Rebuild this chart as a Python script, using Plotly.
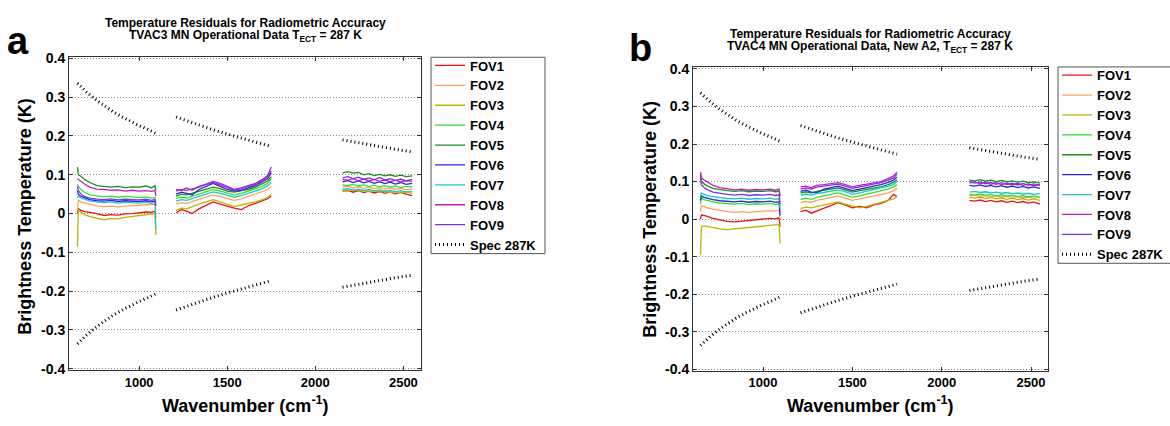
import plotly.graph_objects as go

# ---------------- data ----------------
WN_B1 = [650, 655, 670, 690, 720, 760, 800, 840, 880, 920, 960, 1000, 1040, 1070, 1090, 1095]
WN_B2 = [1210, 1240, 1270, 1300, 1340, 1380, 1420, 1460, 1500, 1540, 1580, 1620, 1660, 1700, 1730, 1750]
WN_B3 = [2155, 2185, 2215, 2245, 2275, 2305, 2335, 2365, 2395, 2425, 2455, 2485, 2515, 2550]

FOV_NAMES = ["FOV1", "FOV2", "FOV3", "FOV4", "FOV5", "FOV6", "FOV7", "FOV8", "FOV9"]
FOV_COLORS = ["#e8141a", "#ffa060", "#b8b800", "#33e033", "#1e8c1e", "#2828d8", "#20c8c0", "#c020c0", "#8030e0"]

# panel a (TVAC3)
A_B1 = {
    "FOV1": [0.000, 0.012, 0.008, 0.005, 0.003, 0.000, -0.005, -0.003, -0.004, -0.001, 0.000, 0.002, 0.004, 0.003, 0.006, -0.010],
    "FOV2": [0.010, 0.035, 0.030, 0.027, 0.024, 0.020, 0.017, 0.019, 0.017, 0.019, 0.020, 0.021, 0.023, 0.022, 0.024, 0.010],
    "FOV3": [-0.085, 0.010, 0.003, -0.003, -0.008, -0.012, -0.016, -0.013, -0.014, -0.010, -0.008, -0.006, -0.003, -0.002, 0.000, -0.055],
    "FOV4": [0.075, 0.070, 0.062, 0.055, 0.048, 0.045, 0.043, 0.045, 0.042, 0.044, 0.043, 0.041, 0.043, 0.040, 0.042, 0.030],
    "FOV5": [0.120, 0.100, 0.096, 0.088, 0.080, 0.072, 0.070, 0.068, 0.070, 0.067, 0.069, 0.068, 0.071, 0.066, 0.072, 0.060],
    "FOV6": [0.060, 0.050, 0.044, 0.040, 0.036, 0.033, 0.032, 0.034, 0.031, 0.033, 0.032, 0.031, 0.033, 0.030, 0.032, 0.020],
    "FOV7": [0.040, 0.045, 0.040, 0.036, 0.032, 0.030, 0.028, 0.030, 0.027, 0.029, 0.028, 0.027, 0.029, 0.026, 0.028, -0.040],
    "FOV8": [0.090, 0.088, 0.082, 0.076, 0.068, 0.063, 0.062, 0.060, 0.061, 0.058, 0.060, 0.058, 0.059, 0.057, 0.060, 0.045],
    "FOV9": [0.070, 0.060, 0.050, 0.044, 0.040, 0.037, 0.036, 0.038, 0.035, 0.037, 0.036, 0.035, 0.037, 0.034, 0.036, 0.020],
}
A_B2 = {
    "FOV1": [0.002, 0.010, 0.006, 0.000, 0.012, 0.020, 0.030, 0.024, 0.018, 0.014, 0.010, 0.020, 0.026, 0.032, 0.038, 0.045],
    "FOV2": [0.025, 0.028, 0.026, 0.030, 0.036, 0.042, 0.048, 0.044, 0.038, 0.034, 0.038, 0.044, 0.050, 0.056, 0.062, 0.070],
    "FOV3": [0.008, 0.014, 0.012, 0.018, 0.024, 0.030, 0.036, 0.030, 0.024, 0.018, 0.022, 0.026, 0.030, 0.036, 0.042, 0.050],
    "FOV4": [0.040, 0.042, 0.040, 0.044, 0.050, 0.056, 0.062, 0.058, 0.052, 0.048, 0.052, 0.058, 0.062, 0.070, 0.078, 0.090],
    "FOV5": [0.045, 0.050, 0.048, 0.052, 0.058, 0.062, 0.068, 0.064, 0.058, 0.055, 0.058, 0.062, 0.068, 0.076, 0.084, 0.095],
    "FOV6": [0.050, 0.055, 0.052, 0.048, 0.062, 0.070, 0.078, 0.070, 0.062, 0.058, 0.060, 0.066, 0.072, 0.082, 0.090, 0.105],
    "FOV7": [0.032, 0.036, 0.034, 0.038, 0.044, 0.050, 0.056, 0.052, 0.046, 0.042, 0.046, 0.052, 0.058, 0.064, 0.072, 0.080],
    "FOV8": [0.058, 0.062, 0.060, 0.064, 0.068, 0.076, 0.080, 0.074, 0.066, 0.060, 0.064, 0.070, 0.075, 0.085, 0.095, 0.110],
    "FOV9": [0.062, 0.060, 0.066, 0.060, 0.070, 0.075, 0.083, 0.078, 0.070, 0.062, 0.066, 0.072, 0.078, 0.088, 0.098, 0.120],
}
A_B3 = {
    "FOV1": [0.058, 0.060, 0.055, 0.059, 0.054, 0.058, 0.053, 0.057, 0.052, 0.056, 0.051, 0.055, 0.050, 0.046],
    "FOV2": [0.068, 0.070, 0.066, 0.069, 0.065, 0.068, 0.064, 0.067, 0.063, 0.066, 0.062, 0.065, 0.061, 0.063],
    "FOV3": [0.060, 0.058, 0.062, 0.057, 0.060, 0.056, 0.059, 0.055, 0.058, 0.054, 0.057, 0.053, 0.056, 0.052],
    "FOV4": [0.074, 0.072, 0.075, 0.071, 0.074, 0.070, 0.073, 0.069, 0.072, 0.068, 0.071, 0.067, 0.070, 0.068],
    "FOV5": [0.105, 0.108, 0.104, 0.106, 0.100, 0.103, 0.098, 0.101, 0.097, 0.100, 0.096, 0.099, 0.095, 0.097],
    "FOV6": [0.082, 0.085, 0.080, 0.084, 0.079, 0.083, 0.078, 0.082, 0.077, 0.081, 0.076, 0.080, 0.075, 0.078],
    "FOV7": [0.062, 0.064, 0.060, 0.063, 0.059, 0.062, 0.058, 0.061, 0.057, 0.060, 0.056, 0.059, 0.055, 0.057],
    "FOV8": [0.088, 0.086, 0.090, 0.085, 0.089, 0.084, 0.088, 0.083, 0.087, 0.082, 0.086, 0.081, 0.085, 0.083],
    "FOV9": [0.092, 0.095, 0.090, 0.094, 0.088, 0.092, 0.087, 0.093, 0.086, 0.090, 0.085, 0.089, 0.084, 0.088],
}

# panel b (TVAC4, new A2)
B_B1 = {
    "FOV1": [0.000, 0.011, 0.010, 0.006, 0.002, -0.002, -0.006, -0.007, -0.005, -0.004, -0.002, 0.000, 0.002, 0.001, 0.004, -0.020],
    "FOV2": [0.020, 0.036, 0.034, 0.030, 0.027, 0.023, 0.020, 0.018, 0.020, 0.018, 0.020, 0.021, 0.023, 0.022, 0.024, 0.000],
    "FOV3": [-0.095, -0.020, -0.018, -0.020, -0.023, -0.026, -0.028, -0.026, -0.024, -0.022, -0.020, -0.018, -0.016, -0.015, -0.014, -0.065],
    "FOV4": [0.040, 0.056, 0.052, 0.049, 0.046, 0.043, 0.041, 0.040, 0.042, 0.039, 0.041, 0.040, 0.042, 0.039, 0.041, 0.020],
    "FOV5": [0.120, 0.100, 0.094, 0.088, 0.082, 0.078, 0.076, 0.074, 0.076, 0.073, 0.075, 0.074, 0.076, 0.073, 0.075, 0.060],
    "FOV6": [0.050, 0.062, 0.058, 0.055, 0.052, 0.049, 0.047, 0.046, 0.048, 0.045, 0.047, 0.046, 0.048, 0.045, 0.047, 0.010],
    "FOV7": [0.060, 0.070, 0.066, 0.062, 0.060, 0.057, 0.055, 0.054, 0.056, 0.053, 0.055, 0.054, 0.056, 0.053, 0.055, 0.030],
    "FOV8": [0.125, 0.110, 0.104, 0.098, 0.090, 0.084, 0.080, 0.078, 0.080, 0.077, 0.079, 0.078, 0.080, 0.077, 0.080, 0.065],
    "FOV9": [0.110, 0.092, 0.084, 0.078, 0.072, 0.068, 0.066, 0.064, 0.066, 0.063, 0.065, 0.064, 0.066, 0.063, 0.065, 0.040],
}
B_B2 = {
    "FOV1": [0.020, 0.024, 0.016, 0.022, 0.030, 0.036, 0.044, 0.038, 0.030, 0.034, 0.030, 0.038, 0.042, 0.050, 0.066, 0.060],
    "FOV2": [0.044, 0.047, 0.045, 0.050, 0.054, 0.058, 0.062, 0.056, 0.050, 0.054, 0.058, 0.062, 0.066, 0.070, 0.076, 0.082],
    "FOV3": [0.028, 0.032, 0.030, 0.034, 0.038, 0.042, 0.046, 0.040, 0.034, 0.030, 0.034, 0.040, 0.044, 0.050, 0.054, 0.060],
    "FOV4": [0.052, 0.056, 0.053, 0.058, 0.062, 0.066, 0.070, 0.064, 0.058, 0.062, 0.066, 0.070, 0.074, 0.080, 0.086, 0.092],
    "FOV5": [0.070, 0.073, 0.070, 0.074, 0.077, 0.080, 0.083, 0.078, 0.072, 0.076, 0.079, 0.083, 0.086, 0.092, 0.098, 0.105],
    "FOV6": [0.074, 0.078, 0.072, 0.070, 0.080, 0.084, 0.088, 0.082, 0.076, 0.080, 0.084, 0.088, 0.092, 0.098, 0.104, 0.112],
    "FOV7": [0.064, 0.067, 0.064, 0.068, 0.071, 0.075, 0.078, 0.073, 0.066, 0.070, 0.074, 0.078, 0.082, 0.088, 0.092, 0.100],
    "FOV8": [0.085, 0.088, 0.084, 0.090, 0.092, 0.094, 0.097, 0.092, 0.086, 0.090, 0.094, 0.098, 0.100, 0.108, 0.115, 0.125],
    "FOV9": [0.080, 0.083, 0.080, 0.085, 0.088, 0.090, 0.093, 0.088, 0.082, 0.086, 0.090, 0.094, 0.097, 0.104, 0.110, 0.120],
}
B_B3 = {
    "FOV1": [0.050, 0.048, 0.051, 0.047, 0.050, 0.046, 0.049, 0.045, 0.048, 0.044, 0.047, 0.043, 0.046, 0.040],
    "FOV2": [0.062, 0.064, 0.061, 0.063, 0.060, 0.062, 0.059, 0.061, 0.058, 0.060, 0.057, 0.059, 0.056, 0.058],
    "FOV3": [0.058, 0.056, 0.059, 0.055, 0.058, 0.054, 0.057, 0.053, 0.056, 0.052, 0.055, 0.051, 0.054, 0.050],
    "FOV4": [0.066, 0.064, 0.067, 0.063, 0.066, 0.062, 0.065, 0.061, 0.064, 0.060, 0.063, 0.059, 0.062, 0.058],
    "FOV5": [0.104, 0.102, 0.105, 0.101, 0.104, 0.100, 0.103, 0.099, 0.102, 0.098, 0.101, 0.097, 0.099, 0.096],
    "FOV6": [0.090, 0.088, 0.091, 0.087, 0.090, 0.086, 0.089, 0.085, 0.088, 0.084, 0.087, 0.083, 0.086, 0.082],
    "FOV7": [0.072, 0.074, 0.071, 0.073, 0.070, 0.072, 0.069, 0.071, 0.068, 0.070, 0.067, 0.069, 0.066, 0.068],
    "FOV8": [0.096, 0.099, 0.094, 0.098, 0.093, 0.097, 0.092, 0.096, 0.091, 0.095, 0.090, 0.094, 0.089, 0.092],
    "FOV9": [0.100, 0.096, 0.099, 0.094, 0.098, 0.093, 0.097, 0.092, 0.096, 0.091, 0.095, 0.090, 0.094, 0.090],
}

# specification envelope (+/-), 287 K
SPEC_X1 = [650, 700, 750, 800, 850, 900, 950, 1000, 1050, 1095]
SPEC_V1 = [0.336, 0.314, 0.295, 0.279, 0.263, 0.250, 0.238, 0.227, 0.217, 0.207]
SPEC_X2 = [1210, 1300, 1400, 1500, 1600, 1700, 1750]
SPEC_V2 = [0.249, 0.234, 0.219, 0.205, 0.192, 0.179, 0.173]
SPEC_X3 = [2155, 2250, 2350, 2450, 2550]
SPEC_V3 = [0.190, 0.182, 0.174, 0.166, 0.159]

Y_TICKS = [-0.4, -0.3, -0.2, -0.1, 0, 0.1, 0.2, 0.3, 0.4]
Y_TICK_LABELS = ["-0.4", "-0.3", "-0.2", "-0.1", "0", "0.1", "0.2", "0.3", "0.4"]
X_TICKS = [1000, 1500, 2000, 2500]

TITLE1 = "Temperature Residuals for Radiometric Accuracy"
TITLE2_A = "TVAC3 MN Operational Data T<sub>ECT</sub> = 287 K"
TITLE2_B = "TVAC4 MN Operational Data, New A2, T<sub>ECT</sub> = 287 K"

# ---------------- figure ----------------
W, H = 1170, 426
FONT = "Liberation Sans, Arial, sans-serif"


def px(x):
    return x / W


def py(y):
    return 1 - y / H


fig = go.Figure()

panels = [
    dict(b1=A_B1, b2=A_B2, b3=A_B3, xa="x", ya="y", legend="legend"),
    dict(b1=B_B1, b2=B_B2, b3=B_B3, xa="x2", ya="y2", legend="legend2"),
]

spec_x = SPEC_X1 + [None] + SPEC_X2 + [None] + SPEC_X3 + [None] + SPEC_X1 + [None] + SPEC_X2 + [None] + SPEC_X3
spec_y = (SPEC_V1 + [None] + SPEC_V2 + [None] + SPEC_V3 + [None]
          + [-v for v in SPEC_V1] + [None] + [-v for v in SPEC_V2] + [None] + [-v for v in SPEC_V3])

for p in panels:
    for name, col in zip(FOV_NAMES, FOV_COLORS):
        xs = WN_B1 + [None] + WN_B2 + [None] + WN_B3
        ys = p["b1"][name] + [None] + p["b2"][name] + [None] + p["b3"][name]
        fig.add_trace(go.Scatter(x=xs, y=ys, mode="lines", name=name,
                                 line=dict(color=col, width=1.3),
                                 xaxis=p["xa"], yaxis=p["ya"], legend=p["legend"],
                                 connectgaps=False))
    fig.add_trace(go.Scatter(x=spec_x, y=spec_y, mode="lines", name="Spec 287K",
                             line=dict(color="black", width=3, dash="1px,3px"),
                             xaxis=p["xa"], yaxis=p["ya"], legend=p["legend"],
                             connectgaps=False))

axis_common = dict(showline=True, linecolor="#333", linewidth=1, mirror="ticks",
                   ticks="inside", ticklen=4, tickcolor="#333", zeroline=False)

grid_y = dict(showgrid=True, gridcolor="#888", griddash="1px,2px", gridwidth=1)
xfont = dict(family=FONT, size=13, color="black", weight="bold")
yfont = dict(family=FONT, size=14, color="black", weight="bold")

legend_common = dict(xanchor="left", yanchor="top", borderwidth=0,
                     bgcolor="rgba(0,0,0,0)", itemwidth=30, tracegroupgap=0,
                     font=dict(family=FONT, size=13, color="black", weight="bold"))

fig.update_layout(
    width=W, height=H, margin=dict(l=0, r=0, t=0, b=0),
    paper_bgcolor="white", plot_bgcolor="white",
    showlegend=True,
    xaxis=dict(domain=[px(69), px(421)], range=[602, 2600], anchor="y",
               tickvals=X_TICKS, showgrid=False, tickfont=xfont, **axis_common),
    yaxis=dict(domain=[py(375.5), py(52)], range=[-0.404, 0.403], anchor="x",
               tickvals=Y_TICKS, ticktext=Y_TICK_LABELS, tickfont=yfont, **grid_y, **axis_common),
    xaxis2=dict(domain=[px(693), px(1048)], range=[608, 2595], anchor="y2",
                tickvals=X_TICKS, showgrid=False, tickfont=xfont, **axis_common),
    yaxis2=dict(domain=[py(376), py(62)], range=[-0.403, 0.405], anchor="x2",
                tickvals=Y_TICKS, ticktext=Y_TICK_LABELS, tickfont=yfont, **grid_y, **axis_common),
    legend=dict(x=px(430), y=py(45), **legend_common),
    legend2=dict(x=px(1057), y=py(55), **legend_common),
    shapes=[
        dict(type="rect", xref="paper", yref="paper", x0=px(431), x1=px(545),
             y0=py(255), y1=py(52), line=dict(color="#555", width=1), layer="below"),
        dict(type="rect", xref="paper", yref="paper", x0=px(1058), x1=px(1175),
             y0=py(265), y1=py(62), line=dict(color="#555", width=1), layer="below"),
    ],
)

ann = []


def add_text(text, x, y, size, xanchor="center", yanchor="middle", angle=0):
    ann.append(dict(text=text, x=px(x), y=py(y), xref="paper", yref="paper",
                    xanchor=xanchor, yanchor=yanchor, showarrow=False, textangle=angle,
                    font=dict(family=FONT, size=size, color="black", weight="bold")))


# panel letters
add_text("a", 18, 35, 38)
add_text("b", 640, 42, 38)
# titles
add_text(TITLE1, 245, 16.5, 12)
add_text(TITLE2_A, 245, 30, 12)
add_text(TITLE1, 870, 27.5, 12)
add_text(TITLE2_B, 870, 41, 12)
# axis titles
add_text("Brightness Temperature (K)", 25, 217, 18, angle=-90)
add_text("Brightness Temperature (K)", 650, 220, 18, angle=-90)
add_text("Wavenumber (cm<sup>-1</sup>)", 245, 411, 18)
add_text("Wavenumber (cm<sup>-1</sup>)", 870, 411, 18)

fig.update_layout(annotations=ann)

fig.write_html("out.html", config={"displayModeBar": False},
               post_script="document.body.style.margin='0';")
